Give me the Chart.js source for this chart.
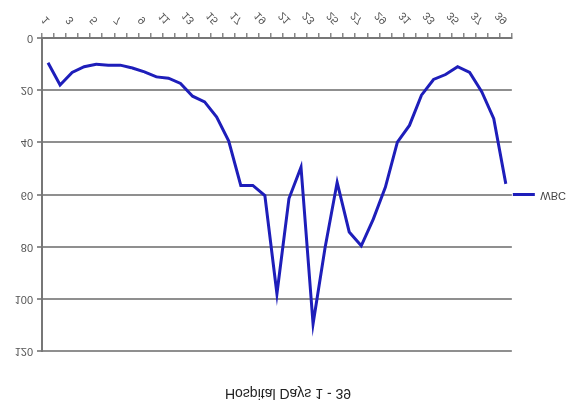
<!DOCTYPE html>
<html>
<head>
<meta charset="utf-8">
<script src="https://cdn.jsdelivr.net/npm/chart.js@4/dist/chart.umd.min.js"></script>
<style>
html,body{margin:0;padding:0;background:#fff;}
#wrap{width:573px;height:407px;transform:scaleY(-1);transform-origin:50% 50%;}
</style>
</head>
<body>
<div id="wrap"><canvas id="c" width="573" height="407"></canvas></div>
<script>
const days = Array.from({length: 39}, (_, i) => String(i + 1));
const wbc = [9.5, 18, 13.2, 11, 10.1, 10.4, 10.4, 11.5, 13, 14.9, 15.4, 17.4, 22.3, 24.5, 30.3, 39.5, 56.5, 56.5, 60.4, 98, 61.5, 49.5, 109.5, 80.3, 55.3, 74.3, 79.6, 69.4, 57.2, 39.9, 33.5, 21.9, 15.9, 14, 11, 13.2, 20.6, 30.9, 55.9];
const yTicks = [0, 20, 40, 60, 80, 100, 120];
const seriesName = 'WBC';
const chartTitle = 'Hospital Days 1 - 39';

const FONT = "'Liberation Sans', Arial, sans-serif";

new Chart(document.getElementById('c'), {
  type: 'line',
  data: {
    labels: days,
    datasets: [{
      label: seriesName,
      data: wbc,
      borderColor: '#1e1eba',
      backgroundColor: '#1e1eba',
      borderWidth: 3,
      pointRadius: 0,
      tension: 0,
      fill: false
    }]
  },
  options: {
    responsive: false,
    animation: false,
    layout: { padding: { left: 0, right: -3, top: 0, bottom: 3 } },
    plugins: {
      title: {
        display: true,
        text: chartTitle,
        color: '#222',
        font: { family: FONT, size: 14, weight: 'normal' },
        padding: { top: 6, bottom: 33 }
      },
      legend: {
        position: 'right',
        fullSize: false,
        labels: {
          usePointStyle: true,
          pointStyle: 'line',
          pointStyleWidth: 22,
          color: '#444',
          font: { family: FONT, size: 11 },
          padding: 1
        }
      },
      tooltip: { enabled: false }
    },
    scales: {
      x: {
        offset: true,
        grid: { display: true, drawOnChartArea: false, drawTicks: true, tickLength: 5, color: '#888', lineWidth: 1.5, offset: true },
        border: { display: true, color: '#777', width: 2 },
        ticks: {
          autoSkip: false,
          maxRotation: 45,
          minRotation: 45,
          padding: 6,
          color: '#555',
          font: { family: FONT, size: 11 },
          callback: function(v, i) { return i % 2 === 0 ? days[i] : ''; }
        }
      },
      y: {
        min: yTicks[0],
        max: yTicks[yTicks.length - 1],
        afterBuildTicks: s => { s.ticks = yTicks.map(v => ({ value: v })); },
        afterFit: s => { s.width = 42; },
        grid: { color: '#8f8f8f', lineWidth: 2, tickLength: 5, drawTicks: true },
        border: { display: true, color: '#777', width: 2 },
        ticks: {
          padding: 4,
          color: '#555',
          font: { family: FONT, size: 11 }
        }
      }
    }
  }
});
</script>
</body>
</html>
